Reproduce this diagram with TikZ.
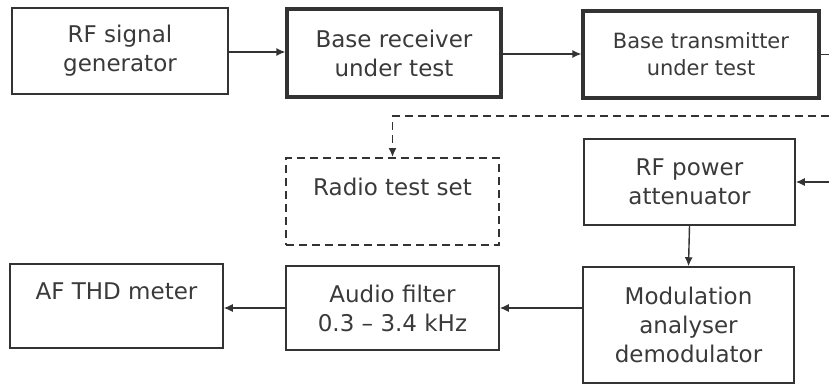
\documentclass[tikz,border=0pt]{standalone}
\usepackage{fontspec}
\setmainfont{DejaVu Sans}
\usetikzlibrary{arrows.meta,calc}
\definecolor{ink}{HTML}{333333}
\definecolor{txt}{HTML}{3A3A3A}
\begin{document}
\begin{tikzpicture}[x=0.5pt,y=-0.5pt,
  blk/.style={draw=ink,line width=0.75pt,rectangle,inner sep=0pt,align=center,
    text=txt,font=\fontsize{11.5}{14.5}\selectfont},
  thick blk/.style={blk,line width=1.6pt},
  dblk/.style={blk,dashed,dash pattern=on 4pt off 2.5pt,line width=0.9pt},
  conn/.style={draw=ink,line width=0.7pt,-{Latex[length=4.5pt,width=4pt]}},
  dconn/.style={conn,dash pattern=on 4pt off 2.5pt,line width=0.9pt}]
\useasboundingbox (0,0) rectangle (829,386);
\node[blk,minimum width=108pt,minimum height=43pt] (gen) at (120,51) {RF signal\\generator};
\node[thick blk,minimum width=107pt,minimum height=44pt] (rx) at (394,53) {Base receiver\\under test};
\node[thick blk,minimum width=118pt,minimum height=43.5pt,font=\fontsize{10.5}{13.5}\selectfont] (tx) at (701,54.5) {Base transmitter\\under test};
\node[dblk,minimum width=106.5pt,minimum height=43.5pt] (rts) at (392.5,201.5) {Radio test set\\\mbox{}};
\node[blk,minimum width=105.5pt,minimum height=43pt] (att) at (689.5,182) {RF power\\attenuator};
\node[blk,minimum width=105.5pt,minimum height=58pt] (mod) at (688.5,325) {Modulation\\analyser\\demodulator};
\node[blk,minimum width=106.5pt,minimum height=42pt] (af) at (392.5,308) {Audio filter\\0.3 – 3.4 kHz};
\node[blk,minimum width=106.5pt,minimum height=42pt] (thd) at (116.5,306) {AF THD meter\\\mbox{}};
\coordinate (txout) at (829,54.5);
\coordinate (dstart) at (829,116);
\coordinate (attin) at (829,182);
\draw[conn] (gen.east |- 0,52) -- (rx.west |- 0,52);
\draw[conn] (rx.east |- 0,54) -- (tx.west |- 0,54);
\draw[draw=ink,line width=0.7pt] (tx.east) -- (txout);
\draw[dconn] (dstart) -| (rts.north);
\draw[conn] (attin) -- (att.east);
\draw[conn] (att.south) -- (mod.north);
\draw[conn] (mod.west |- af.east) -- (af.east);
\draw[conn] (af.west) -- (thd.east |- af.west);
\end{tikzpicture}
\end{document}
